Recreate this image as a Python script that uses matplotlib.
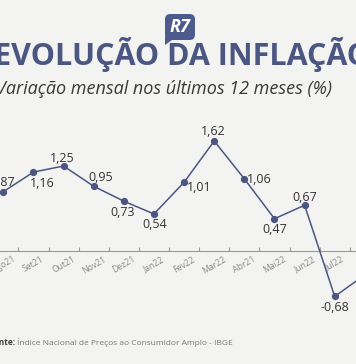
import matplotlib
matplotlib.use("Agg")
import matplotlib.pyplot as plt
from matplotlib.patches import FancyBboxPatch, Polygon

plt.rcParams['font.family'] = ['Open Sans', 'DejaVu Sans']

# monthly IPCA change (%)
months = ["Ago21", "Set21", "Out21", "Nov21", "Dez21", "Jan22", "Fev22",
          "Mar22", "Abr21", "Mai22", "Jun22", "Jul22", "Ago22"]
values = [0.87, 1.16, 1.25, 0.95, 0.73, 0.54, 1.01,
          1.62, 1.06, 0.47, 0.67, -0.68, -0.36]
# label offsets in pixels (dx, dy of baseline from point)
label_dx = [-1, 9, -1, 7, -1, 1, 15, -1, 15, 0, 0, 0, 16]
label_dy = [6, -15, 4, 5, -15, -14, -9, 6, -4, -14, 4, -15, -4]

navy = "#4b5682"
bg = "#f3f3f2"

fig = plt.figure(figsize=(3.56, 3.64), dpi=100, facecolor=bg)
ax = fig.add_axes([0, 0, 1, 1])
ax.set_facecolor(bg)

x = list(range(len(values)))
ax.plot(x, values, color=navy, lw=1.1, marker="o", ms=4.2, zorder=3)

for i, v in enumerate(values):
    ax.annotate(f"{v:.2f}".replace(".", ","), (i, v),
                xytext=(label_dx[i], label_dy[i]), textcoords="offset pixels",
                ha="center", va="baseline", fontsize=9, color="#333333",
                annotation_clip=False)

for s in ["top", "right", "left"]:
    ax.spines[s].set_visible(False)
ax.spines["bottom"].set_position(("data", 0))
ax.spines["bottom"].set_color("#9a9a9a")
ax.spines["bottom"].set_linewidth(0.8)
ax.set_yticks([])

ax.set_xticks([i + 0.5 for i in x])
ax.set_xticklabels([])
ax.tick_params(axis="x", which="major", direction="in", length=3,
               color="#9a9a9a", width=0.8)
ax.set_xticks(x, minor=True)
ax.set_xticklabels(months, minor=True)
ax.tick_params(axis="x", which="minor", length=0, pad=3,
               labelsize=6.2, labelcolor="#8a8a8a")
for lab in ax.get_xticklabels(minor=True):
    lab.set_rotation(30)
    lab.set_ha("center")
    lab.set_va("top")

# limits last, set_xticks would widen them
ax.set_xlim(-0.11, 11.706)
ax.set_ylim(-1.679, 3.706)

# header
logo = FancyBboxPatch((165 / 356, 1 - 40 / 364), 30 / 356, 26 / 364,
                      boxstyle="round,pad=0,rounding_size=0.015",
                      transform=fig.transFigure, facecolor="#4d5a8c",
                      edgecolor="none")
fig.patches.append(logo)
tail = Polygon([(165 / 356, 1 - 36 / 364), (165 / 356, 1 - 45 / 364),
                (172 / 356, 1 - 40 / 364)], closed=True,
               transform=fig.transFigure, facecolor="#4d5a8c", edgecolor="none")
fig.patches.append(tail)
fig.text(180 / 356, 1 - 27.5 / 364, "R7", ha="center", va="center",
         fontsize=13, fontweight="bold", style="italic", color="white")

fig.text(182 / 356, 1 - 55 / 364, "EVOLUÇÃO DA INFLAÇÃO", ha="center",
         va="center", fontsize=22, fontweight="bold", color=navy)
fig.text(164 / 356, 1 - 89 / 364, "Variação mensal nos últimos 12 meses (%)",
         ha="center", va="center", fontsize=13, style="italic",
         color="#3a3a3a")

# source line: bold prefix + regular text
src_y = 1 - 342.5 / 364
bold = fig.text(-11 / 356, src_y, "Fonte:", ha="left", va="center",
                fontsize=6, fontweight="bold", color="#444444")
fig.canvas.draw()
bb = bold.get_window_extent()
fig.text((bb.x1 + 2) / 356, src_y,
         "Índice Nacional de Preços ao Consumidor Amplo - IBGE",
         ha="left", va="center", fontsize=6, color="#777777")

fig.savefig("out.png", dpi=100, facecolor=bg)
